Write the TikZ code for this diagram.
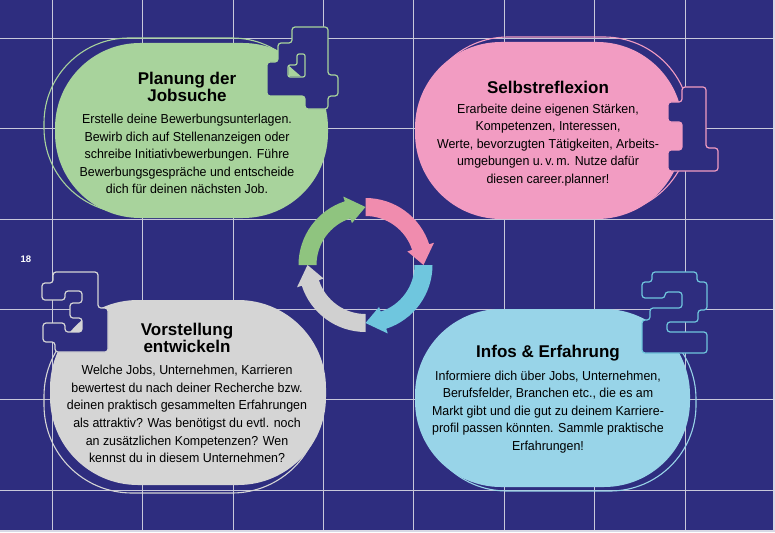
\documentclass[tikz,border=0pt]{standalone}
\usepackage{fontspec}
\setmainfont{Liberation Sans}
\newfontfamily\bodyfont[FakeStretch=0.955]{Liberation Sans}
\definecolor{navy}{HTML}{2E2D7F}
\definecolor{gridgray}{HTML}{C8C8DA}
\definecolor{greenfill}{HTML}{A8D39C}
\definecolor{greenarrow}{HTML}{8FC47F}
\definecolor{pinkfill}{HTML}{F29CC2}
\definecolor{pinkarrow}{HTML}{F08CAE}
\definecolor{grayfill}{HTML}{D5D5D5}
\definecolor{grayarrow}{HTML}{D0D0D0}
\definecolor{bluefill}{HTML}{98D4E8}
\definecolor{bluearrow}{HTML}{6FC6DE}
% x1,y1,x2,y2,Radius
\newcommand{\blobpath}[5]{({#1+#5},#2) -- ({#3-#5},#2)
  arc[start angle=90, end angle=0, radius=#5pt] -- (#3,{#4-#5})
  arc[start angle=0, end angle=-90, radius=#5pt] -- ({#1+#5},#4)
  arc[start angle=-90, end angle=-180, radius=#5pt] -- (#1,{#2+#5})
  arc[start angle=180, end angle=90, radius=#5pt] -- cycle}
\begin{document}
\begin{tikzpicture}[x=1pt, y=-1pt, line join=round,
    rim/.style={line width=1.1pt},
    digit/.style={fill=navy, line width=1.2pt, rounded corners=3pt},
    head/.style={inner sep=0pt, align=center, font=\fontsize{17}{17.5}\selectfont\bfseries},
    txt/.style={inner sep=0pt, align=center, font=\bodyfont\fontsize{13}{17.6}\selectfont},
    gridline/.style={line width=1.1pt, draw=gridgray}]
  \useasboundingbox (0,0) rectangle (775,532);
  \fill[navy] (0,0) rectangle (775,532);
  % Raster
  \foreach \i in {0,...,7}
    \draw[gridline] ({52.3+90.4*\i},0) -- ({52.3+90.4*\i},532);
  \foreach \j in {0,...,5}
    \draw[gridline] (0,{38.3+90.4*\j}) -- (775,{38.3+90.4*\j});
  \draw[gridgray!70, line width=2pt] (0,531) -- (775,531);
  \draw[gridgray!70, line width=1.5pt] (774,0) -- (774,532);
  % 4 Planung der Jobsuche
  \draw[rim, draw=greenfill] \blobpath{44}{38}{317}{213}{85};
  \fill[greenfill] \blobpath{55}{43}{328}{218}{85};
  \draw[digit, draw=greenfill] (292,27) -- (328,27) -- (328,75) -- (338,75)
    -- (338,96) -- (328,96) -- (328,109) -- (305,109) -- (305,96) -- (267,96)
    -- (267,62) -- (278,62) -- (278,43) -- (292,43) -- cycle;
  \draw[digit, draw=greenfill, rounded corners=2pt] (297,54) -- (305,54) -- (305,77)
    -- (288,77) -- (288,65) -- (297,65) -- cycle;
  \fill[greenfill] (288.6,65.6) -- (288.6,76.4) -- (301,76.4) -- cycle;
  \node[head] (t4) at (187,87) {Planung der\\Jobsuche};
  \node[txt] (b4) at (187,154) {Erstelle deine Bewerbungsunterlagen.\\
    Bewirb dich auf Stellenanzeigen oder\\
    schreibe Initiativbewerbungen. Führe\\
    Bewerbungsgespräche und entscheide\\
    dich für deinen nächsten Job.};
  % 1 Selbstreflexion
  \draw[rim, draw=pinkfill] \blobpath{422}{37}{690}{214}{86};
  \fill[pinkfill] \blobpath{415}{42}{683}{219}{86};
  \draw[digit, draw=pinkfill] (682,87) -- (706,87) -- (706,148) -- (718,148)
    -- (718,171) -- (668,171) -- (668,150) -- (682,150) -- (682,122)
    -- (668,122) -- (668,102) -- (682,102) -- cycle;
  \node[head] (t1) at (548,87) {Selbstreflexion};
  \node[txt] (b1) at (548,145) {Erarbeite deine eigenen Stärken,\\
    Kompetenzen, Interessen,\\
    Werte, bevorzugten Tätigkeiten, Arbeits-\\
    umgebungen u.\,v.\,m. Nutze dafür\\
    diesen career.planner!};
  % 2 Infos & Erfahrung
  \draw[rim, draw=bluefill] \blobpath{421}{313}{696}{491}{86};
  \fill[bluefill] \blobpath{415}{309}{690}{487}{86};
  \draw[digit, draw=bluearrow] (652,272) -- (697,272) -- (697,282) -- (707,282)
    -- (707,310) -- (698,310) -- (698,322) -- (667,322) -- (667,332) -- (707,332)
    -- (707,353) -- (642,353) -- (642,320) -- (650,320) -- (650,308) -- (682,308)
    -- (682,292) -- (665,292) -- (665,298) -- (642,298) -- (642,282) -- (652,282) -- cycle;
  \node[head] (t2) at (548,353) {Infos \& Erfahrung};
  \node[txt] (b2) at (548,412) {Informiere dich über Jobs, Unternehmen,\\
    Berufsfelder, Branchen etc., die es am\\
    Markt gibt und die gut zu deinem Karriere-\\
    profil passen könnten. Sammle praktische\\
    Erfahrungen!};
  % 3 Vorstellung entwickeln
  \draw[rim, draw=grayfill] \blobpath{44}{308}{320}{493}{88};
  \fill[grayfill] \blobpath{50}{300}{326}{485}{88};
  \draw[digit, draw=grayfill] (53,272) -- (98,272) -- (98,308) -- (108,308)
    -- (108,352) -- (55,352) -- (55,342) -- (43,342) -- (43,323) -- (65,323)
    -- (65,332) -- (82,332) -- (82,318) -- (70,318) -- (70,303) -- (82,303)
    -- (82,291) -- (65,291) -- (65,300) -- (42,300) -- (42,283) -- (53,283) -- cycle;
  \node[head] (t3) at (187,338) {Vorstellung\\entwickeln};
  \node[txt] (b3) at (187,414) {Welche Jobs, Unternehmen, Karrieren\\
    bewertest du nach deiner Recherche bzw.\\
    deinen praktisch gesammelten Erfahrungen\\
    als attraktiv? Was benötigst du evtl. noch\\
    an zusätzlichen Kompetenzen? Wen\\
    kennst du in diesem Unternehmen?};
  % Kreislauf
  \coordinate (mid) at (365.5,265);
  \foreach \s/\e/\h/\col in {90/0/18/pinkarrow, 0/-90/-72/bluearrow,
      -90/-180/-162/grayarrow, 180/90/108/greenarrow}
    \fill[\col] ([shift={(\s:67pt)}]mid) arc[start angle=\s, end angle=\h, radius=67pt]
      -- ([shift={(\h:72pt)}]mid) -- ([shift={(\e:58pt)}]mid)
      -- ([shift={(\h:44pt)}]mid) -- ([shift={(\h:49pt)}]mid)
      arc[start angle=\h, end angle=\s, radius=49pt] -- cycle;
  \node[text=white, font=\fontsize{9.5}{9.5}\selectfont\bfseries] (page) at (26,259) {18};
\end{tikzpicture}
\end{document}
